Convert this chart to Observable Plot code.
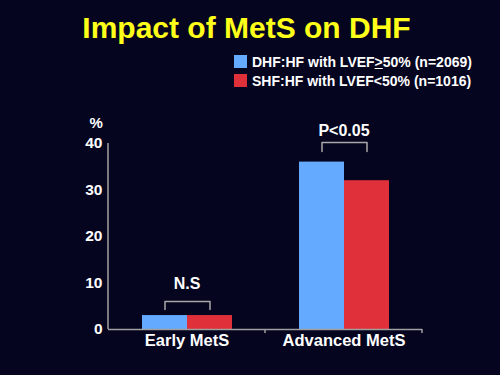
<!DOCTYPE html>
<html><head><meta charset="utf-8">
<script src="https://cdn.jsdelivr.net/npm/d3@7"></script>
<script src="https://cdn.jsdelivr.net/npm/@observablehq/plot@0.6"></script>
<style>
html,body{margin:0;padding:0;background:#05051f;}
#page{position:relative;width:500px;height:375px;overflow:hidden;font-family:"Liberation Sans",Arial,sans-serif;font-weight:bold;}
#header{position:relative;height:92px;}
#title{position:absolute;left:0;width:493px;top:13px;text-align:center;font-size:30px;line-height:30px;color:#ffff1a;white-space:nowrap;}
.sw{position:absolute;left:234px;width:13px;height:13px;}
.lt{position:absolute;left:252px;font-size:14px;line-height:14px;color:#fff;white-space:nowrap;}
svg{display:block;}
</style></head>
<body>
<div id="page">
  <div id="header">
    <div id="title">Impact of MetS on DHF</div>
    <div id="legend"></div>
  </div>
</div>
<script>
const categories = ["Early MetS", "Advanced MetS"];
const seriesKeys = ["DHF", "SHF"];
const seriesLabels = ["DHF:HF with LVEF<u>&gt;</u>50% (n=2069)", "SHF:HF with LVEF&lt;50% (n=1016)"];
const dhfValues = [3, 36];
const shfValues = [3, 32];
const sigLabels = ["N.S", "P<0.05"];
const bracketTop = [6.0, 40.2];
const bracketFoot = [4.3, 38.3];
const sigLabelY = [8.8, 41.7];
const yTicks = [0, 10, 20, 30, 40];
const colors = ["#64aaff", "#e0303a"];

// legend
const legend = document.getElementById("legend");
const legendTops = [55, 74];
seriesLabels.forEach((lab, i) => {
  const sw = document.createElement("div");
  sw.className = "sw"; sw.style.top = legendTops[i] + "px"; sw.style.background = colors[i];
  legend.appendChild(sw);
  const t = document.createElement("div");
  t.className = "lt"; t.style.top = (legendTops[i]) + "px"; t.innerHTML = lab;
  legend.appendChild(t);
});

const rows = categories.flatMap((c, i) => [
  {category: c, series: "DHF", value: dhfValues[i]},
  {category: c, series: "SHF", value: shfValues[i]}
]);
const bracket = categories.flatMap((c, i) => [
  {category: c, series: "DHF", y: bracketFoot[i]},
  {category: c, series: "DHF", y: bracketTop[i]},
  {category: c, series: "SHF", y: bracketTop[i]},
  {category: c, series: "SHF", y: bracketFoot[i]}
]);
const sig = categories.map((c, i) => ({category: c, label: sigLabels[i], y: sigLabelY[i]}));

const font = '"Liberation Sans", Arial, sans-serif';
const plot = Plot.plot({
  width: 500, height: 283,
  marginLeft: 107, marginRight: 78, marginTop: 51, marginBottom: 46,
  style: {background: "transparent", color: "#fff", fontFamily: font, fontWeight: "bold", fontSize: "15.5px", overflow: "visible"},
  fx: {domain: categories, padding: 0, label: null},
  x: {domain: seriesKeys, paddingInner: 0, paddingOuter: 0.725, axis: null},
  y: {domain: [0, 40], label: null},
  color: {domain: seriesKeys, range: colors},
  marks: [
    Plot.axisY({ticks: yTicks, tickSize: 0, tickPadding: 6, fontSize: 15.5, fontWeight: "bold", fill: "#fff", label: null}),
    Plot.axisFx({anchor: "bottom", tickSize: 0, tickPadding: 5, fontSize: 16.5, fontWeight: "bold", fill: "#fff", label: null}),
    Plot.barY(rows, {fx: "category", x: "series", y: "value", fill: "series"}),
    Plot.ruleY([0], {stroke: "#a0a0a0", strokeWidth: 1.5}),
    Plot.line(bracket, {fx: "category", x: "series", y: "y", z: "category", stroke: "#a8a8a8", strokeWidth: 1.5}),
    Plot.text(sig, {fx: "category", y: "y", text: "label", fill: "#fff", fontSize: 16, fontWeight: "bold", lineAnchor: "bottom"}),
    Plot.text([categories[0]], {fx: d => d, frameAnchor: "top-left", text: () => "%", dx: -19, dy: -16, lineAnchor: "bottom", fill: "#fff", fontSize: 15, fontWeight: "bold"})
  ]
});
document.getElementById("page").appendChild(plot);

// axis line on the left and small ticks at the category boundaries
const fx = plot.scale("fx"), ys = plot.scale("y");
const g = d3.select(plot).append("g").attr("stroke", "#a0a0a0").attr("stroke-width", 1.5);
const x0 = fx.apply(categories[0]);
g.append("line").attr("x1", x0).attr("x2", x0).attr("y1", ys.apply(40)).attr("y2", ys.apply(0));
categories.forEach(c => {
  const xb = fx.apply(c) + fx.bandwidth;
  g.append("line").attr("x1", xb).attr("x2", xb).attr("y1", ys.apply(0)).attr("y2", ys.apply(0) + 4);
});
</script>
</body></html>
